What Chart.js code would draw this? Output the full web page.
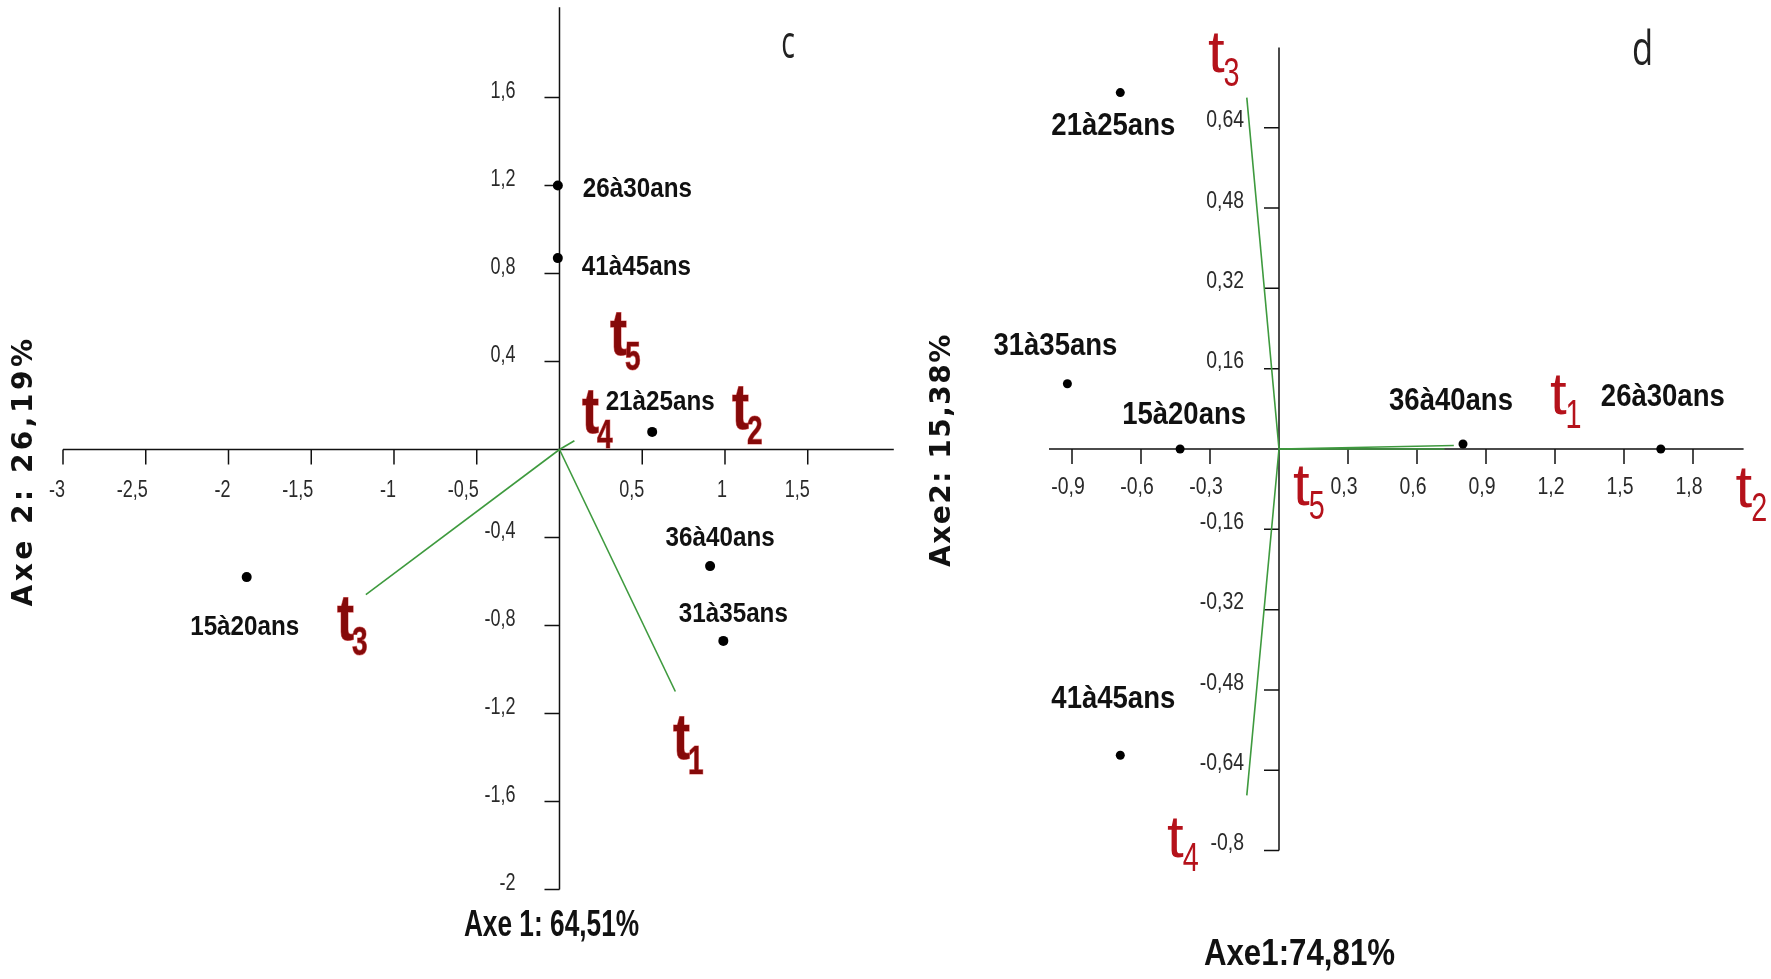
<!DOCTYPE html>
<html>
<head>
<meta charset="utf-8">
<title>AFC – classes d'âge</title>
<script src="https://cdn.jsdelivr.net/npm/chart.js@4.4.1/dist/chart.umd.min.js"></script>
<style>
  html, body { margin: 0; padding: 0; background: #fff; }
  #wrap { position: relative; width: 1771px; height: 979px; overflow: hidden; }
  .panel { position: absolute; top: 0; }
  #panelC { left: 0; width: 915px; height: 979px; }
  #panelD { left: 915px; width: 856px; height: 979px; }
</style>
</head>
<body>
<div id="wrap">
  <div class="panel" id="panelC"><canvas id="cvC" width="915" height="979"></canvas></div>
  <div class="panel" id="panelD"><canvas id="cvD" width="856" height="979"></canvas></div>
</div>
<script>
// ---------- data ----------
const ageGroups = ['15à20ans', '21à25ans', '26à30ans', '31à35ans', '36à40ans', '41à45ans'];

// plan c : Axe 1 (64,51 %) x Axe 2 (26,19 %)
const cAxe1 = [-1.89, 0.56, -0.01, 0.99, 0.91, -0.01];
const cAxe2 = [-0.58, 0.08, 1.20, -0.87, -0.53, 0.87];
const cVecNames = ['t1', 't3', 't4'];
const cVecAxe1 = [0.70, -1.17, 0.09];
const cVecAxe2 = [-1.10, -0.66, 0.04];
const cXTicks = [-3, -2.5, -2, -1.5, -1, -0.5, 0.5, 1, 1.5];
const cXTickLabels = ['-3', '-2,5', '-2', '-1,5', '-1', '-0,5', '0,5', '1', '1,5'];
const cYTicks = [1.6, 1.2, 0.8, 0.4, -0.4, -0.8, -1.2, -1.6, -2];
const cYTickLabels = ['1,6', '1,2', '0,8', '0,4', '-0,4', '-0,8', '-1,2', '-1,6', '-2'];

// plan d : Axe 1 (74,81 %) x Axe 2 (15,38 %)
const dAxe1 = [-0.43, -0.69, 1.66, -0.92, 0.80, -0.69];
const dAxe2 = [0.00, 0.71, 0.00, 0.13, 0.01, -0.61];
const dVecNames = ['t1', 't2', 't3', 't4'];
const dVecAxe1 = [0.76, 0.72, -0.14, -0.14];
const dVecAxe2 = [0.007, 0.0, 0.70, -0.69];
const dXTicks = [-0.9, -0.6, -0.3, 0.3, 0.6, 0.9, 1.2, 1.5, 1.8];
const dXTickLabels = ['-0,9', '-0,6', '-0,3', '0,3', '0,6', '0,9', '1,2', '1,5', '1,8'];
const dYTicks = [0.64, 0.48, 0.32, 0.16, -0.16, -0.32, -0.48, -0.64, -0.8];
const dYTickLabels = ['0,64', '0,48', '0,32', '0,16', '-0,16', '-0,32', '-0,48', '-0,64', '-0,8'];

// ---------- layout / styling ----------
const GREEN = '#3e9a3e';
const SANS = '"Liberation Sans", Arial, sans-serif';

const layoutC = {
  xRange: [-3, 2.02], yRange: [-2, 2.01],
  padding: { left: 63, right: 21.2, top: 7.3, bottom: 89.5 },
  tickLen: 15,
  tickFont: '24px ' + SANS, tickSx: 0.75,
  xTickDx: 2, xTickAlign: 'right', xTickDy: 41,
  yTickDx: -44, yTickDy: -6,
  pointRadius: 5,
  labelFont: 'bold 28px ' + SANS, labelSx: 0.865,
  labelOffsets: {
    '15à20ans': { dx: -2, dy: 50, align: 'center' },
    '21à25ans': { dx: 8, dy: -30, align: 'center' },
    '26à30ans': { dx: 25, dy: 4, align: 'left' },
    '31à35ans': { dx: 10, dy: -27, align: 'center' },
    '36à40ans': { dx: 10, dy: -28, align: 'center' },
    '41à45ans': { dx: 24, dy: 9, align: 'left' }
  },
  traitStyle: { tFont: 'bold 64px ' + SANS, tSx: 0.8, subFont: 'bold 40px ' + SANS, subSx: 0.7,
                subDx: -2, subDy: 15, color: '#860909', stroke: 'rgba(205,35,35,0.6)' },
  traitAnchors: { t1: [0.686, -1.407], t2: [1.042, 0.093], t3: [-1.344, -0.866], t4: [0.136, 0.075], t5: [0.305, 0.43] },
  xTitle: { text: 'Axe 1: 64,51%', x: 551.5, y: 926, font: 'bold 37px ' + SANS, sx: 0.71 },
  yTitle: { text: 'Axe 2: 26,19%', x: 25, y: 471, font: 'bold 28px "DejaVu Sans", sans-serif', spacing: 3.5 },
  panelTag: { text: 'c', x: 788, y: 58, font: '46px "Open Sans", sans-serif', sx: 0.62 }
};

const layoutD = {
  xRange: [-1.0, 2.02], yRange: [-0.8, 0.8],
  padding: { left: 134, right: 27.4, top: 47.4, bottom: 128.4 },
  tickLen: 15,
  tickFont: '24px ' + SANS, tickSx: 0.81,
  xTickDx: -4, xTickAlign: 'center', xTickDy: 38,
  yTickDx: -35, yTickDy: -7,
  pointRadius: 4.5,
  labelFont: 'bold 32px ' + SANS, labelSx: 0.86,
  labelOffsets: {
    '15à20ans': { dx: 4, dy: -34, align: 'center' },
    '21à25ans': { dx: -7, dy: 34, align: 'center' },
    '26à30ans': { dx: 2, dy: -52, align: 'center' },
    '31à35ans': { dx: -12, dy: -38, align: 'center' },
    '36à40ans': { dx: -12, dy: -43, align: 'center' },
    '41à45ans': { dx: -7, dy: -56, align: 'center' }
  },
  traitStyle: { tFont: '60px ' + SANS, tSx: 1.0, subFont: '40px ' + SANS, subSx: 0.72,
                subDx: -1, subDy: 14, color: '#b5121b', stroke: null },
  traitAnchors: { t1: [1.178, 0.070], t2: [1.985, -0.116], t3: [-0.309, 0.751], t4: [-0.487, -0.813], t5: [0.061, -0.112] },
  xTitle: { text: 'Axe1:74,81%', x: 384.5, y: 955, font: 'bold 37px ' + SANS, sx: 0.845 },
  yTitle: { text: 'Axe2: 15,38%', x: 28, y: 450, font: 'bold 28px "DejaVu Sans", sans-serif', spacing: 1.5 },
  panelTag: { text: 'd', x: 727.5, y: 65, font: '48px "Open Sans", sans-serif', sx: 0.72 }
};

// ---------- helpers ----------
function drawText(ctx, text, x, y, o) {
  ctx.save();
  ctx.translate(x, y);
  if (o.rotate) ctx.rotate(o.rotate);
  ctx.scale(o.sx || 1, 1);
  ctx.font = o.font;
  ctx.fillStyle = o.color || '#111';
  ctx.textAlign = o.align || 'left';
  ctx.textBaseline = o.baseline || 'alphabetic';
  if (o.spacing) ctx.letterSpacing = o.spacing + 'px';
  ctx.fillText(text, 0, 0);
  ctx.restore();
}

function drawTrait(ctx, name, px, py, st) {
  const letter = name.charAt(0);
  const sub = name.slice(1);
  ctx.save();
  ctx.font = st.tFont;
  const tw = ctx.measureText(letter).width * st.tSx;
  ctx.restore();
  [[letter, px, py, st.tFont, st.tSx], [sub, px + tw + st.subDx, py + st.subDy, st.subFont, st.subSx]]
    .forEach(([txt, x, y, font, sx]) => {
      ctx.save();
      ctx.translate(x, y);
      ctx.scale(sx, 1);
      ctx.font = font;
      ctx.textBaseline = 'alphabetic';
      ctx.textAlign = 'left';
      if (st.stroke) {
        ctx.strokeStyle = st.stroke;
        ctx.lineWidth = 1.2;
        ctx.strokeText(txt, 0, 0);
      }
      ctx.fillStyle = st.color;
      ctx.fillText(txt, 0, 0);
      ctx.restore();
    });
}

function biplotPlugin(L, xTicks, xTickLabels, yTicks, yTickLabels) {
  return {
    id: 'biplotFrame',
    beforeDatasetsDraw(chart) {
      const { ctx, scales: { x, y } } = chart;
      const x0 = x.getPixelForValue(0);
      const y0 = y.getPixelForValue(0);
      ctx.save();
      ctx.strokeStyle = '#111';
      ctx.lineWidth = 1.5;
      ctx.beginPath();
      ctx.moveTo(x.getPixelForValue(L.xRange[0]), y0);
      ctx.lineTo(x.getPixelForValue(L.xRange[1]), y0);
      ctx.moveTo(x0, y.getPixelForValue(L.yRange[0]));
      ctx.lineTo(x0, y.getPixelForValue(L.yRange[1]));
      xTicks.forEach(v => {
        const p = x.getPixelForValue(v);
        ctx.moveTo(p, y0);
        ctx.lineTo(p, y0 + L.tickLen);
      });
      yTicks.forEach(v => {
        const p = y.getPixelForValue(v);
        ctx.moveTo(x0 - L.tickLen, p);
        ctx.lineTo(x0, p);
      });
      ctx.stroke();
      ctx.restore();

      xTicks.forEach((v, i) => {
        drawText(ctx, xTickLabels[i], x.getPixelForValue(v) + L.xTickDx, y0 + L.xTickDy,
          { font: L.tickFont, sx: L.tickSx, align: L.xTickAlign, baseline: 'middle', color: '#2a2a2a' });
      });
      yTicks.forEach((v, i) => {
        drawText(ctx, yTickLabels[i], x0 + L.yTickDx, y.getPixelForValue(v) + L.yTickDy,
          { font: L.tickFont, sx: L.tickSx, align: 'right', baseline: 'middle', color: '#2a2a2a' });
      });
    },
    afterDatasetsDraw(chart) {
      const { ctx, scales: { x, y } } = chart;
      const pts = chart.data.datasets[0].data;
      pts.forEach(p => {
        const off = L.labelOffsets[p.label];
        drawText(ctx, p.label, x.getPixelForValue(p.x) + off.dx, y.getPixelForValue(p.y) + off.dy,
          { font: L.labelFont, sx: L.labelSx, align: off.align, baseline: 'middle', color: '#111' });
      });
      Object.keys(L.traitAnchors).forEach(name => {
        const [ax, ay] = L.traitAnchors[name];
        drawTrait(ctx, name, x.getPixelForValue(ax), y.getPixelForValue(ay), L.traitStyle);
      });
      const xt = L.xTitle;
      drawText(ctx, xt.text, xt.x, xt.y, { font: xt.font, sx: xt.sx, align: 'center', baseline: 'middle', color: '#111' });
      const yt = L.yTitle;
      drawText(ctx, yt.text, yt.x, yt.y, { font: yt.font, align: 'center', baseline: 'middle',
        rotate: -Math.PI / 2, spacing: yt.spacing, color: '#111' });
      const pt = L.panelTag;
      drawText(ctx, pt.text, pt.x, pt.y, { font: pt.font, sx: pt.sx, align: 'center', baseline: 'alphabetic', color: '#222' });
    }
  };
}

function buildBiplot(canvasId, L, ax1, ax2, vecNames, vecAx1, vecAx2, xTicks, xTickLabels, yTicks, yTickLabels) {
  const points = ageGroups.map((g, i) => ({ x: ax1[i], y: ax2[i], label: g }));
  const vectors = vecNames.map((n, i) => ({
    label: n,
    data: [{ x: 0, y: 0 }, { x: vecAx1[i], y: vecAx2[i] }],
    showLine: true,
    borderColor: GREEN,
    borderWidth: 1.6,
    pointRadius: 0,
    fill: false,
    order: 2
  }));
  return new Chart(document.getElementById(canvasId), {
    type: 'scatter',
    data: {
      datasets: [
        { label: 'classes', data: points, pointRadius: L.pointRadius, pointBackgroundColor: '#000',
          pointBorderWidth: 0, showLine: false, order: 1 },
        ...vectors
      ]
    },
    options: {
      responsive: false,
      animation: false,
      events: [],
      layout: { padding: L.padding },
      plugins: { legend: { display: false }, tooltip: { enabled: false }, title: { display: false } },
      scales: {
        x: { type: 'linear', min: L.xRange[0], max: L.xRange[1], display: false },
        y: { type: 'linear', min: L.yRange[0], max: L.yRange[1], display: false }
      }
    },
    plugins: [biplotPlugin(L, xTicks, xTickLabels, yTicks, yTickLabels)]
  });
}

buildBiplot('cvC', layoutC, cAxe1, cAxe2, cVecNames, cVecAxe1, cVecAxe2, cXTicks, cXTickLabels, cYTicks, cYTickLabels);
buildBiplot('cvD', layoutD, dAxe1, dAxe2, dVecNames, dVecAxe1, dVecAxe2, dXTicks, dXTickLabels, dYTicks, dYTickLabels);
</script>
</body>
</html>
